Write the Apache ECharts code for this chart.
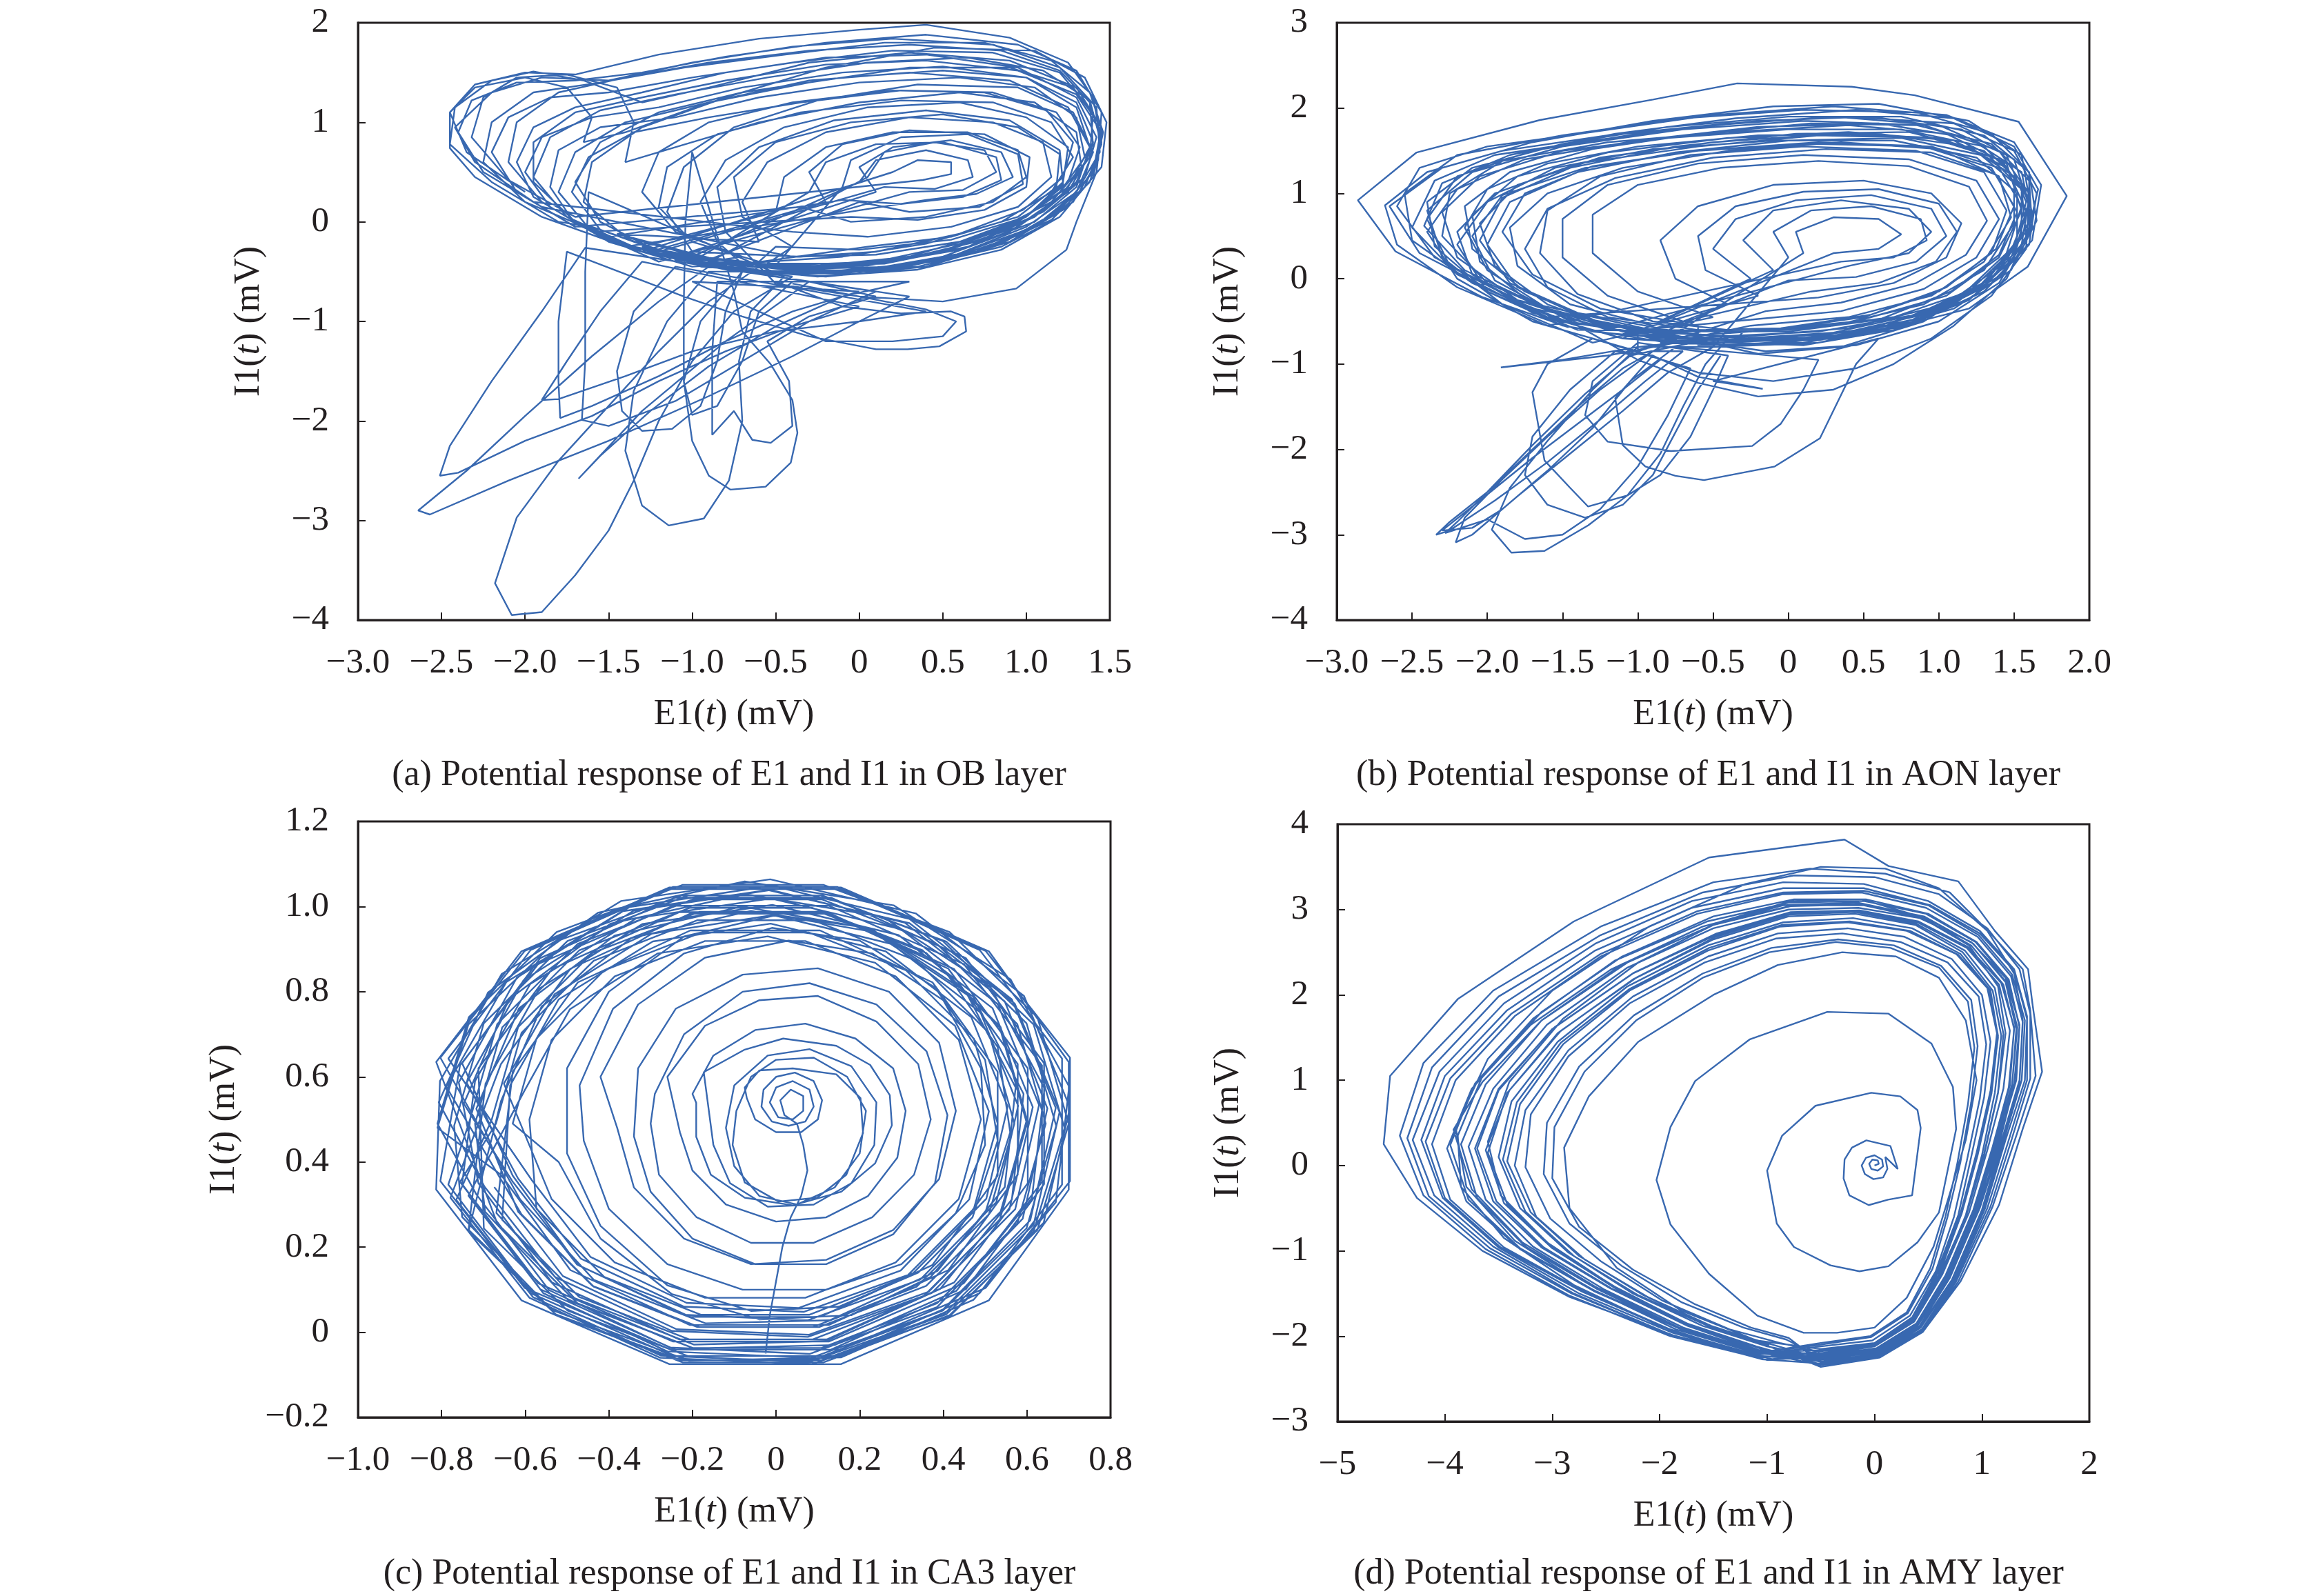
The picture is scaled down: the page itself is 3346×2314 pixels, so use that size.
<!DOCTYPE html>
<html>
<head>
<meta charset="utf-8">
<script src="https://cdn.jsdelivr.net/npm/echarts@6/dist/echarts.min.js"></script>
<style>
  html, body { margin: 0; padding: 0; background: #fff; }
  #chart { width: 3346px; height: 2314px; }
</style>
</head>
<body>
<div id="chart"></div>
<script>
// E1(t), I1(t) pairs traced off the four phase portraits (mV)

// (a) OB layer — main ring loops
const obRing = [
  [[-2.0,0.3],[-2.35,0.7],[-2.45,1.1],[-2.3,1.38],[-2.0,1.5],[-1.7,1.48],[-1.2,1.68],[-0.6,1.84],[0.0,1.93],[0.4,1.98],[0.9,1.85],[1.25,1.6],[1.4,1.25],[1.45,0.8],[1.38,0.4],[1.15,0.02],[0.75,-0.28],[0.25,-0.45],[-0.3,-0.47],[-0.9,-0.36],[-1.45,-0.12]],
  [[-0.6,-0.2],[-0.7,0.2],[-0.55,0.6],[-0.2,0.9],[0.3,1.05],[0.8,1.0],[1.1,0.8],[1.15,0.45],[0.95,0.15],[0.55,-0.05],[0.05,-0.15],[-0.4,-0.1]],
  [[-1.95,0.2],[-2.3,0.6],[-2.42,0.95],[-2.2,1.3],[-1.9,1.45],[-1.5,1.42],[-1.0,1.6],[-0.4,1.76],[0.2,1.84],[0.8,1.78],[1.2,1.55],[1.42,1.15],[1.44,0.7],[1.3,0.3],[1.0,-0.05],[0.55,-0.35],[0.0,-0.5],[-0.6,-0.45],[-1.2,-0.28],[-1.6,-0.05]],
  [[-1.8,0.0],[-2.2,0.4],[-2.45,0.78],[-2.42,1.15],[-2.2,1.42],[-1.95,1.51],[-1.65,1.42],[-1.3,1.2],[-0.9,1.35],[-0.3,1.6],[0.3,1.7],[0.9,1.62],[1.3,1.35],[1.45,0.95],[1.4,0.5],[1.2,0.12],[0.85,-0.22],[0.35,-0.42],[-0.2,-0.5],[-0.8,-0.42],[-1.3,-0.25]],
  [[-0.5,0.1],[-0.45,0.45],[-0.2,0.75],[0.2,0.9],[0.65,0.9],[0.95,0.72],[1.0,0.45],[0.8,0.2],[0.4,0.05],[-0.05,0.0],[-0.35,0.15]],
  [[-1.7,-0.05],[-2.05,0.3],[-2.2,0.7],[-2.1,1.05],[-1.85,1.25],[-1.5,1.3],[-1.0,1.45],[-0.4,1.6],[0.2,1.72],[0.8,1.7],[1.2,1.5],[1.4,1.1],[1.38,0.65],[1.2,0.25],[0.9,-0.1],[0.45,-0.38],[-0.1,-0.52],[-0.7,-0.48],[-1.25,-0.3]],
  [[-0.2,0.2],[-0.3,0.5],[-0.1,0.78],[0.3,0.92],[0.75,0.88],[1.02,0.65],[1.0,0.35],[0.75,0.12],[0.35,0.02],[-0.05,0.05]],
  [[-1.6,-0.1],[-1.95,0.25],[-2.05,0.6],[-1.95,0.95],[-1.7,1.15],[-1.3,1.3],[-0.8,1.5],[-0.2,1.65],[0.4,1.68],[0.95,1.55],[1.3,1.25],[1.42,0.85],[1.35,0.45],[1.1,0.1],[0.7,-0.2],[0.2,-0.4],[-0.4,-0.48],[-1.0,-0.4]],
  [[-0.3,0.3],[-0.2,0.6],[0.1,0.78],[0.5,0.8],[0.82,0.65],[0.85,0.42],[0.62,0.25],[0.25,0.18],[-0.1,0.22]],
  [[-1.5,-0.15],[-2.0,0.2],[-2.25,0.6],[-2.2,1.0],[-1.95,1.3],[-1.55,1.4],[-1.05,1.55],[-0.45,1.68],[0.15,1.8],[0.75,1.8],[1.15,1.62],[1.38,1.3],[1.46,0.9],[1.4,0.45],[1.2,0.05],[0.85,-0.28],[0.35,-0.48],[-0.25,-0.55],[-0.85,-0.45]],
  [[-1.5,-0.2],[-1.85,0.15],[-2.0,0.5],[-1.9,0.85],[-1.6,1.05],[-1.2,1.15],[-0.7,1.35],[-0.1,1.5],[0.5,1.56],[1.0,1.45],[1.3,1.15],[1.38,0.75],[1.25,0.35],[0.95,0.0],[0.5,-0.3],[0.0,-0.45],[-0.6,-0.46],[-1.1,-0.35]],
  [[0.1,0.3],[0.0,0.55],[0.2,0.75],[0.55,0.82],[0.85,0.7],[0.92,0.45],[0.7,0.28],[0.4,0.22]],
  [[-1.4,-0.25],[-1.9,0.05],[-2.3,0.45],[-2.45,0.74],[-2.45,1.1],[-2.3,1.35],[-2.0,1.45],[-1.75,1.35],[-1.6,1.05],[-1.65,0.8],[-1.4,0.9],[-0.9,1.2],[-0.3,1.42],[0.3,1.5],[0.9,1.42],[1.25,1.15],[1.38,0.75],[1.3,0.35],[1.05,0.0],[0.6,-0.28],[0.05,-0.44],[-0.5,-0.45],[-1.0,-0.35]],
  [[0.0,0.4],[0.1,0.62],[0.4,0.72],[0.65,0.62],[0.68,0.45],[0.45,0.33],[0.15,0.35]],
  [[-1.2,-0.3],[-1.55,0.0],[-1.7,0.4],[-1.55,0.8],[-1.2,1.1],[-0.7,1.3],[-0.1,1.45],[0.5,1.52],[1.0,1.45],[1.3,1.2],[1.4,0.8],[1.3,0.4],[1.05,0.05],[0.65,-0.25],[0.15,-0.42],[-0.45,-0.45]],
  [[-1.3,-0.3],[-1.7,-0.02],[-1.85,0.35],[-1.8,0.72],[-1.55,0.95],[-1.1,1.05],[-0.6,1.25],[0.0,1.4],[0.6,1.45],[1.05,1.35],[1.3,1.05],[1.35,0.65],[1.2,0.3],[0.9,-0.05],[0.45,-0.32],[-0.1,-0.45],[-0.7,-0.42]],
  [[-0.85,-0.2],[-0.95,0.2],[-0.8,0.62],[-0.45,0.95],[0.05,1.15],[0.6,1.2],[1.0,1.05],[1.25,0.75],[1.22,0.4],[1.0,0.05],[0.6,-0.2],[0.1,-0.33],[-0.4,-0.35]],
  [[-1.9,0.15],[-2.25,0.5],[-2.4,0.9],[-2.32,1.22],[-2.05,1.4],[-1.7,1.42],[-1.3,1.5],[-0.8,1.66],[-0.2,1.8],[0.4,1.88],[0.95,1.78],[1.3,1.52],[1.45,1.1],[1.43,0.62],[1.28,0.2],[0.98,-0.12],[0.52,-0.38],[0.0,-0.5],[-0.55,-0.5],[-1.1,-0.38]],
  [[-1.15,-0.32],[-1.55,-0.08],[-1.72,0.3],[-1.62,0.65],[-1.35,0.9],[-0.9,1.05],[-0.35,1.2],[0.25,1.32],[0.8,1.3],[1.18,1.1],[1.32,0.75],[1.25,0.4],[1.0,0.05],[0.6,-0.22],[0.1,-0.4],[-0.5,-0.44]],
  [[-0.1,0.35],[-0.05,0.62],[0.25,0.85],[0.65,0.88],[0.95,0.68],[0.98,0.38],[0.72,0.15],[0.3,0.1],[0.0,0.2]],
  [[-0.9,-0.38],[-1.4,-0.15],[-1.65,0.2],[-1.6,0.6],[-1.3,0.95],[-0.8,1.25],[-0.2,1.55],[0.45,1.75],[1.05,1.72],[1.35,1.45],[1.48,1.0],[1.45,0.55],[1.25,0.15],[0.9,-0.2],[0.4,-0.45],[-0.2,-0.55],[-0.8,-0.48],[-1.3,-0.3]],
  [[0.2,0.5],[0.35,0.62],[0.55,0.6],[0.55,0.48],[0.38,0.42]],
  [[-1.7,0.05],[-2.1,0.42],[-2.32,0.85],[-2.25,1.25],[-2.05,1.45],[-1.75,1.48],[-1.45,1.35],[-1.35,1.0],[-1.4,0.6],[-1.1,0.75],[-0.6,1.0],[0.0,1.2],[0.6,1.3],[1.05,1.2],[1.3,0.9],[1.33,0.55],[1.15,0.2],[0.8,-0.1],[0.3,-0.35],[-0.3,-0.45],[-0.9,-0.4]],
  [[-0.7,-0.35],[-1.1,-0.1],[-1.3,0.3],[-1.2,0.7],[-0.9,1.0],[-0.4,1.2],[0.2,1.32],[0.75,1.3],[1.12,1.12],[1.28,0.8],[1.22,0.45],[0.98,0.12],[0.6,-0.12],[0.1,-0.3],[-0.35,-0.35]],
  [[-1.0,-0.3],[-1.15,0.1],[-1.05,0.55],[-0.75,0.95],[-0.25,1.22],[0.35,1.38],[0.95,1.35],[1.28,1.1],[1.4,0.7],[1.3,0.3],[1.05,-0.05],[0.6,-0.32],[0.05,-0.48],[-0.55,-0.5]],
  [[-1.35,-0.25],[-1.75,0.05],[-1.95,0.45],[-1.85,0.85],[-1.55,1.12],[-1.1,1.28],[-0.55,1.45],[0.05,1.6],[0.65,1.65],[1.1,1.52],[1.38,1.22],[1.45,0.78],[1.35,0.35],[1.1,0.0],[0.7,-0.3],[0.2,-0.48],[-0.35,-0.52],[-0.95,-0.45]],
  [[0.05,0.45],[0.15,0.7],[0.45,0.8],[0.75,0.72],[0.82,0.5],[0.62,0.32],[0.3,0.3]],
  [[-1.2,-0.4],[-1.6,-0.1],[-1.8,0.3],[-1.7,0.7],[-1.4,1.0],[-0.9,1.2],[-0.3,1.4],[0.3,1.55],[0.9,1.55],[1.28,1.35],[1.45,0.95],[1.42,0.5],[1.3,0.0],[1.24,-0.28],[0.94,-0.67],[0.5,-0.8],[0.0,-0.75],[-0.5,-0.62]],
  [[-0.8,-0.1],[-0.85,0.35],[-0.6,0.75],[-0.15,1.02],[0.4,1.12],[0.9,1.02],[1.2,0.72],[1.22,0.38],[1.0,0.05],[0.55,-0.18],[0.0,-0.28],[-0.5,-0.25]],
  [[-0.6,-0.4],[-1.0,-0.2],[-1.2,0.15],[-1.15,0.55],[-0.85,0.88],[-0.35,1.1],[0.25,1.22],[0.8,1.2],[1.15,1.0],[1.28,0.65],[1.15,0.3],[0.85,0.0],[0.4,-0.22],[-0.1,-0.35]],
  [[-1.0,-0.45],[-1.5,-0.2],[-1.9,0.2],[-2.1,0.6],[-2.05,1.0],[-1.8,1.3],[-1.4,1.45],[-0.9,1.6],[-0.3,1.72],[0.3,1.78],[0.85,1.72],[1.2,1.52],[1.38,1.2],[1.4,0.75],[1.25,0.3],[0.95,-0.05],[0.5,-0.3],[0.0,-0.42],[-0.55,-0.42]],
  [[-0.4,-0.25],[-0.7,0.05],[-0.75,0.45],[-0.5,0.8],[-0.05,1.0],[0.5,1.08],[0.95,0.95],[1.2,0.68],[1.18,0.35],[0.95,0.05],[0.55,-0.15],[0.05,-0.25]],
  [[-0.8,-0.45],[-1.3,-0.3],[-1.7,0.0],[-1.95,0.4],[-1.95,0.8],[-1.7,1.1],[-1.3,1.25],[-0.8,1.42],[-0.2,1.58],[0.4,1.62],[0.95,1.52],[1.3,1.28],[1.45,0.9],[1.4,0.45],[1.2,0.05],[0.85,-0.25],[0.35,-0.45],[-0.25,-0.52]]
].flat();

// (a) OB layer — excursions into the lower wing
const obWing = [
  [[-0.6,-0.45],[-0.9,-0.8],[-1.2,-1.3],[-1.5,-1.85],[-1.8,-2.4],[-2.05,-2.97],[-2.18,-3.63],[-2.08,-3.95],[-1.9,-3.92],[-1.7,-3.55],[-1.5,-3.1],[-1.35,-2.6],[-1.2,-2.0],[-1.0,-1.4],[-0.75,-0.9],[-0.4,-0.55]],
  [[-0.9,-0.45],[-1.2,-0.8],[-1.6,-1.35],[-2.0,-1.95],[-2.35,-2.5],[-2.64,-2.9],[-2.57,-2.94],[-2.1,-2.6],[-1.5,-2.2],[-0.9,-1.75],[-0.4,-1.35],[0.0,-1.0],[0.3,-0.75]],
  [[-1.64,-0.26],[-1.9,-0.9],[-2.2,-1.6],[-2.45,-2.25],[-2.51,-2.55],[-2.4,-2.52],[-2.0,-2.2],[-1.6,-1.95],[-1.2,-1.6],[-0.8,-1.3],[-0.4,-1.05],[0.0,-0.85]],
  [[-1.3,-0.4],[-1.55,-0.9],[-1.75,-1.4],[-1.9,-1.79],[-1.8,-1.78],[-1.4,-1.55],[-1.0,-1.3],[-0.5,-1.1],[0.0,-1.0],[0.4,-0.9]],
  [[-1.1,-0.45],[-1.35,-0.9],[-1.45,-1.5],[-1.42,-1.9],[-1.3,-2.1],[-1.12,-2.08],[-0.95,-1.85],[-0.85,-1.4],[-0.8,-0.9],[-0.7,-0.5]],
  [[-0.9,-0.5],[-1.15,-1.0],[-1.35,-1.7],[-1.4,-2.3],[-1.3,-2.85],[-1.14,-3.05],[-0.93,-2.98],[-0.78,-2.6],[-0.7,-2.0],[-0.72,-1.4],[-0.65,-0.9],[-0.45,-0.55]],
  [[-1.62,0.3],[-1.64,-0.5],[-1.64,-1.4],[-1.66,-1.99],[-1.5,-2.05],[-1.1,-1.8],[-0.7,-1.4],[-0.3,-1.0],[0.1,-0.7]],
  [[-0.7,-0.5],[-0.95,-1.0],[-1.05,-1.6],[-1.0,-2.2],[-0.9,-2.55],[-0.77,-2.69],[-0.56,-2.66],[-0.41,-2.42],[-0.37,-2.12],[-0.4,-1.79],[-0.53,-1.43],[-0.7,-1.1],[-0.75,-0.7]],
  [[-1.0,0.7],[-1.04,0.0],[-1.05,-0.8],[-1.05,-1.6],[-1.0,-1.94],[-0.85,-1.85],[-0.7,-1.4],[-0.6,-0.9],[-0.4,-0.6]],
  [[-0.85,-0.6],[-0.88,-1.3],[-0.88,-2.14],[-0.75,-1.9],[-0.64,-2.19],[-0.53,-2.22],[-0.4,-2.05],[-0.42,-1.6],[-0.55,-1.2],[-0.3,-0.95],[0.1,-0.75]],
  [[-0.3,-0.6],[-0.8,-1.2],[-1.3,-1.9],[-1.68,-2.58],[-1.55,-2.35],[-1.25,-1.9],[-0.9,-1.45],[-0.5,-1.05],[-0.1,-0.75],[0.3,-0.6]],
  [[-0.5,-0.6],[-0.1,-0.85],[0.25,-0.92],[0.55,-0.9],[0.63,-0.95],[0.64,-1.1],[0.48,-1.25],[0.29,-1.28],[0.1,-1.28],[-0.3,-1.15],[-0.7,-0.95],[-1.05,-0.75]],
  [[-1.75,-0.3],[-1.8,-1.0],[-1.8,-1.6],[-1.79,-1.97],[-1.6,-1.85],[-1.2,-1.55],[-0.8,-1.2],[-0.4,-0.9],[0.0,-0.7]],
  [[-1.0,-0.6],[-0.6,-0.9],[-0.2,-1.2],[0.2,-1.2],[0.5,-1.15],[0.58,-1.0],[0.4,-0.88],[0.0,-0.75],[-0.4,-0.62]]
].flat();

// (b) AON layer — main ring loops
const aonRing = [
  [[-1.46,-0.57],[-2.04,-0.21],[-2.61,0.32],[-2.86,0.92],[-2.47,1.48],[-1.65,1.86],[-0.9,2.1],[-0.34,2.29],[0.42,2.25],[0.84,2.15],[1.53,1.84],[1.85,0.97],[1.59,0.14],[1.2,-0.35],[0.6,-0.62],[-0.1,-0.72],[-0.8,-0.7]],
  [[-1.3,-0.62],[-1.9,-0.2],[-2.45,0.3],[-2.65,0.85],[-2.3,1.3],[-1.7,1.6],[-0.9,1.85],[-0.1,2.02],[0.6,2.05],[1.2,1.85],[1.55,1.45],[1.62,0.75],[1.45,0.15],[1.1,-0.3],[0.5,-0.6],[-0.2,-0.72],[-0.9,-0.68]],
  [[-0.4,-0.3],[-0.75,0.0],[-0.85,0.45],[-0.6,0.85],[-0.1,1.1],[0.5,1.15],[0.95,1.0],[1.15,0.65],[1.05,0.25],[0.7,-0.05],[0.2,-0.22]],
  [[-1.6,-0.45],[-2.2,0.05],[-2.5,0.6],[-2.35,1.15],[-1.95,1.45],[-1.3,1.62],[-0.5,1.8],[0.3,1.9],[1.0,1.8],[1.45,1.45],[1.58,0.9],[1.5,0.35],[1.2,-0.15],[0.7,-0.45],[0.0,-0.6],[-0.7,-0.62]],
  [[-1.2,-0.55],[-1.75,-0.15],[-2.1,0.35],[-2.15,0.85],[-1.85,1.25],[-1.3,1.52],[-0.6,1.7],[0.15,1.82],[0.85,1.8],[1.35,1.58],[1.6,1.15],[1.62,0.6],[1.42,0.05],[1.0,-0.38],[0.4,-0.62],[-0.3,-0.7]],
  [[-1.4,-0.52],[-2.0,-0.05],[-2.3,0.5],[-2.25,1.0],[-1.9,1.38],[-1.2,1.6],[-0.4,1.72],[0.4,1.8],[1.05,1.7],[1.45,1.35],[1.55,0.8],[1.4,0.25],[1.05,-0.2],[0.45,-0.5],[-0.25,-0.62],[-0.9,-0.6]],
  [[-0.5,-0.45],[-1.0,-0.15],[-1.3,0.3],[-1.3,0.75],[-1.0,1.1],[-0.45,1.3],[0.2,1.38],[0.8,1.32],[1.2,1.08],[1.32,0.68],[1.18,0.28],[0.85,-0.05],[0.35,-0.28],[-0.15,-0.38]],
  [[-1.0,-0.85],[-1.7,-0.5],[-2.2,0.0],[-2.4,0.55],[-2.2,1.05],[-1.75,1.4],[-1.0,1.62],[-0.2,1.78],[0.6,1.82],[1.2,1.65],[1.55,1.25],[1.62,0.65],[1.45,0.0],[1.1,-0.55],[0.7,-1.0],[0.3,-1.3],[-0.2,-1.38],[-0.6,-1.22],[-1.0,-0.95]],
  [[-1.55,-0.4],[-2.15,0.1],[-2.42,0.62],[-2.3,1.12],[-1.85,1.45],[-1.15,1.7],[-0.35,1.88],[0.45,1.98],[1.1,1.88],[1.5,1.55],[1.66,1.05],[1.58,0.45],[1.3,-0.08],[0.85,-0.48],[0.2,-0.7],[-0.5,-0.75]],
  [[-1.7,-0.35],[-2.25,0.15],[-2.4,0.7],[-2.2,1.2],[-1.7,1.5],[-1.0,1.7],[-0.2,1.85],[0.55,1.9],[1.15,1.75],[1.5,1.4],[1.6,0.85],[1.45,0.2],[1.05,-0.3],[0.4,-0.58],[-0.3,-0.68],[-1.0,-0.62]],
  [[-0.1,0.1],[-0.3,0.45],[-0.1,0.8],[0.35,0.92],[0.8,0.82],[0.95,0.55],[0.8,0.3],[0.4,0.15]],
  [[-1.2,-0.6],[-1.8,-0.25],[-2.2,0.25],[-2.3,0.78],[-2.05,1.2],[-1.5,1.5],[-0.8,1.65],[0.0,1.75],[0.75,1.75],[1.3,1.55],[1.55,1.1],[1.55,0.5],[1.3,-0.05],[0.85,-0.42],[0.2,-0.62],[-0.5,-0.68]],
  [[-0.7,-0.7],[-1.3,-0.5],[-1.8,-0.1],[-2.0,0.4],[-1.85,0.9],[-1.4,1.25],[-0.75,1.48],[0.0,1.62],[0.75,1.65],[1.28,1.45],[1.55,1.05],[1.58,0.5],[1.4,-0.05],[1.0,-0.5],[0.45,-0.78],[-0.15,-0.85]],
  [[-1.5,-0.5],[-2.1,-0.05],[-2.5,0.45],[-2.55,1.0],[-2.2,1.45],[-1.5,1.68],[-0.7,1.88],[0.1,1.98],[0.85,1.95],[1.35,1.7],[1.6,1.25],[1.6,0.6],[1.35,0.0],[0.9,-0.4],[0.25,-0.65],[-0.45,-0.72],[-1.1,-0.65]],
  [[-0.2,-0.2],[-0.55,0.1],[-0.6,0.5],[-0.35,0.85],[0.1,1.02],[0.6,1.05],[1.0,0.88],[1.12,0.55],[0.98,0.2],[0.6,-0.05],[0.15,-0.15]],
  [[-1.3,-0.75],[-1.9,-0.3],[-2.3,0.25],[-2.4,0.8],[-2.1,1.25],[-1.5,1.55],[-0.7,1.75],[0.1,1.85],[0.9,1.8],[1.4,1.5],[1.6,1.0],[1.58,0.35],[1.35,-0.2],[0.95,-0.7],[0.45,-1.05],[-0.1,-1.2],[-0.6,-1.1],[-1.0,-0.85]],
  [[-1.0,-0.62],[-1.6,-0.35],[-2.0,0.1],[-2.15,0.6],[-2.0,1.05],[-1.6,1.35],[-1.0,1.55],[-0.2,1.68],[0.6,1.7],[1.2,1.55],[1.5,1.2],[1.5,0.65],[1.3,0.1],[0.9,-0.3],[0.3,-0.55],[-0.35,-0.62]],
  [[-1.4,-0.6],[-2.0,-0.15],[-2.35,0.38],[-2.4,0.9],[-2.1,1.3],[-1.5,1.58],[-0.8,1.78],[0.0,1.9],[0.75,1.9],[1.3,1.68],[1.6,1.25],[1.65,0.68],[1.48,0.1],[1.1,-0.35],[0.5,-0.65],[-0.2,-0.78],[-0.85,-0.75]],
  [[0.1,0.3],[0.05,0.55],[0.3,0.72],[0.6,0.7],[0.75,0.52],[0.6,0.35],[0.3,0.3]],
  [[-0.9,-0.55],[-1.45,-0.3],[-1.8,0.15],[-1.85,0.6],[-1.6,1.0],[-1.1,1.3],[-0.4,1.5],[0.35,1.6],[1.0,1.52],[1.4,1.2],[1.48,0.72],[1.3,0.2],[0.95,-0.2],[0.4,-0.45],[-0.25,-0.55]],
  [[-0.8,-0.75],[-1.5,-0.55],[-2.0,-0.15],[-2.2,0.4],[-2.0,0.9],[-1.55,1.3],[-0.9,1.52],[-0.1,1.62],[0.7,1.62],[1.25,1.42],[1.52,1.0],[1.52,0.45],[1.3,-0.05],[0.9,-0.5],[0.35,-0.8],[-0.2,-0.88]],
  [[-1.8,-0.25],[-2.35,0.25],[-2.6,0.85],[-2.45,1.3],[-2.0,1.55],[-1.3,1.72],[-0.5,1.92],[0.3,2.02],[1.05,1.92],[1.5,1.6],[1.68,1.1],[1.62,0.45],[1.35,-0.05],[0.9,-0.45],[0.3,-0.7],[-0.4,-0.78],[-1.1,-0.7]],
  [[-0.25,0.0],[-0.5,0.35],[-0.35,0.7],[0.05,0.92],[0.55,0.98],[0.95,0.82],[1.05,0.5],[0.85,0.2],[0.45,0.02],[0.0,-0.02]],
  [[-0.7,-0.5],[-1.2,-0.2],[-1.5,0.25],[-1.5,0.7],[-1.2,1.1],[-0.6,1.35],[0.1,1.45],[0.8,1.4],[1.25,1.15],[1.4,0.7],[1.25,0.25],[0.9,-0.12],[0.35,-0.38],[-0.25,-0.48]],
  [[-1.1,-0.62],[-1.6,-0.3],[-1.95,0.15],[-2.05,0.65],[-1.8,1.1],[-1.25,1.42],[-0.5,1.6],[0.3,1.7],[1.0,1.65],[1.42,1.38],[1.6,0.92],[1.52,0.38],[1.25,-0.12],[0.8,-0.5],[0.2,-0.7],[-0.45,-0.72]],
  [[-0.5,-0.72],[-1.1,-0.62],[-1.7,-0.3],[-2.05,0.2],[-2.1,0.75],[-1.8,1.2],[-1.2,1.48],[-0.4,1.65],[0.4,1.72],[1.1,1.62],[1.45,1.3],[1.58,0.8],[1.5,0.25],[1.2,-0.25],[0.7,-0.6],[0.1,-0.78]],
  [[-1.1,-0.7],[-1.7,-0.4],[-2.1,0.05],[-2.2,0.55],[-1.95,1.0],[-1.4,1.35],[-0.6,1.55],[0.2,1.68],[0.95,1.65],[1.4,1.4],[1.6,0.95],[1.55,0.4],[1.3,-0.1],[0.85,-0.5],[0.2,-0.75],[-0.5,-0.8]],
  [[0.0,0.25],[-0.1,0.55],[0.15,0.8],[0.55,0.85],[0.88,0.7],[0.92,0.45],[0.7,0.25],[0.35,0.2]],
  [[-1.6,-0.55],[-2.2,-0.1],[-2.6,0.4],[-2.68,0.86],[-2.4,1.25],[-1.9,1.5],[-1.2,1.68],[-0.4,1.82],[0.4,1.9],[1.1,1.82],[1.5,1.5],[1.65,1.0],[1.6,0.4],[1.3,-0.15],[0.8,-0.55],[0.1,-0.75],[-0.6,-0.78]],
  [[-0.6,-0.55],[-1.25,-0.35],[-1.7,0.05],[-1.9,0.55],[-1.75,1.0],[-1.3,1.32],[-0.6,1.5],[0.15,1.58],[0.9,1.55],[1.35,1.3],[1.5,0.85],[1.38,0.35],[1.05,-0.1],[0.55,-0.42],[-0.05,-0.58]],
  [[-0.6,-0.6],[-1.2,-0.45],[-1.6,-0.1],[-1.75,0.35],[-1.6,0.82],[-1.15,1.18],[-0.5,1.42],[0.25,1.52],[0.95,1.48],[1.38,1.22],[1.52,0.78],[1.4,0.28],[1.08,-0.15],[0.6,-0.48],[0.0,-0.62]],
  [[-0.8,-0.6],[-1.4,-0.4],[-1.85,-0.05],[-2.05,0.45],[-1.9,0.95],[-1.45,1.3],[-0.75,1.55],[0.05,1.7],[0.8,1.72],[1.3,1.5],[1.55,1.05],[1.55,0.5],[1.32,-0.02],[0.9,-0.45],[0.3,-0.68],[-0.35,-0.72]],
  [[-0.3,-0.62],[-0.9,-0.5],[-1.4,-0.18],[-1.65,0.3],[-1.6,0.8],[-1.25,1.2],[-0.65,1.45],[0.1,1.55],[0.85,1.5],[1.3,1.25],[1.45,0.8],[1.35,0.3],[1.0,-0.15],[0.5,-0.45],[-0.1,-0.6]],
  [[-0.9,-0.7],[-1.5,-0.45],[-1.95,-0.02],[-2.1,0.5],[-1.9,0.98],[-1.35,1.3],[-0.6,1.5],[0.2,1.6],[0.95,1.55],[1.4,1.3],[1.55,0.85],[1.45,0.3],[1.15,-0.2],[0.65,-0.55],[0.0,-0.72],[-0.6,-0.75]]
].flat();

// (b) AON layer — excursions into the lower wing
const aonWing = [
  [[-0.8,-0.75],[-1.1,-1.05],[-1.4,-1.5],[-1.7,-2.0],[-2.0,-2.5],[-2.25,-2.85],[-2.34,-3.0],[-2.25,-2.95],[-1.95,-2.6],[-1.6,-2.15],[-1.25,-1.65],[-0.95,-1.2],[-0.7,-0.85]],
  [[-0.9,-0.85],[-1.25,-1.3],[-1.6,-1.85],[-1.9,-2.35],[-2.15,-2.8],[-2.21,-3.09],[-2.1,-3.0],[-1.8,-2.55],[-1.45,-2.05],[-1.1,-1.55],[-0.8,-1.1],[-0.5,-0.8]],
  [[-1.0,-0.8],[-1.3,-1.3],[-1.6,-1.9],[-1.85,-2.45],[-1.97,-2.94],[-1.84,-3.21],[-1.62,-3.19],[-1.33,-2.89],[-1.07,-2.54],[-0.85,-2.05],[-0.7,-1.5],[-0.55,-1.0],[-0.4,-0.7]],
  [[-0.6,-0.7],[-1.2,-0.9],[-1.91,-1.04],[-1.5,-0.95],[-1.0,-0.8],[-0.5,-0.7]],
  [[-1.05,-0.9],[-1.35,-1.35],[-1.7,-1.95],[-2.0,-2.5],[-2.2,-2.85],[-2.28,-2.98],[-2.0,-2.82],[-1.75,-3.05],[-1.5,-3.0],[-1.25,-2.7],[-1.0,-2.2],[-0.8,-1.6],[-0.65,-1.05]],
  [[-1.3,-0.7],[-1.6,-1.0],[-1.7,-1.33],[-1.62,-2.13],[-1.45,-2.45],[-1.33,-2.67],[-1.07,-2.54],[-0.85,-2.3],[-0.65,-1.85],[-0.5,-1.3],[-0.4,-0.9]],
  [[-1.0,-0.75],[-1.3,-1.2],[-1.35,-1.6],[-1.2,-1.91],[-0.78,-2.02],[-0.24,-1.96],[-0.05,-1.7],[0.1,-1.3],[0.2,-0.95]],
  [[-0.75,-0.8],[-1.05,-1.2],[-1.3,-1.75],[-1.6,-2.25],[-1.9,-2.7],[-2.1,-2.92],[-2.3,-2.95],[-2.05,-2.6],[-1.7,-2.1],[-1.4,-1.7],[-1.1,-1.3],[-0.85,-0.95]],
  [[-0.9,-0.9],[-1.15,-1.4],[-1.1,-1.95],[-0.95,-2.2],[-0.75,-2.31],[-0.56,-2.36],[-0.09,-2.2],[0.21,-1.87],[0.34,-1.4],[0.45,-1.0],[0.6,-0.7]],
  [[-0.5,-1.2],[-0.17,-1.29],[-0.6,-1.15],[-0.9,-0.9]],
  [[-1.15,-0.85],[-1.45,-1.3],[-1.7,-1.85],[-1.75,-2.3],[-1.6,-2.65],[-1.35,-2.8],[-1.1,-2.65],[-0.9,-2.3],[-0.75,-1.8],[-0.6,-1.3],[-0.45,-0.9]]
].flat();

// (c) CA3 layer — start-up transient and inner spiral
const ca3Spiral = [
  [[-0.025,-0.05],[-0.015,0.04],[0.0,0.12],[0.015,0.2],[0.035,0.27],[0.06,0.32],[0.075,0.38],[0.065,0.44],[0.05,0.49]],
  [[0.02,0.51],[0.01,0.545],[0.035,0.57],[0.065,0.555],[0.065,0.52],[0.04,0.5],[0.005,0.505],[-0.015,0.54],[0.0,0.575],[0.04,0.59],[0.08,0.57],[0.09,0.53],[0.07,0.495],[0.03,0.485],[-0.01,0.495],[-0.035,0.53],[-0.03,0.57],[0.0,0.6],[0.045,0.61],[0.09,0.59],[0.11,0.545],[0.1,0.5],[0.06,0.47],[0.0,0.47],[-0.05,0.5],[-0.07,0.55]],
  [[-0.075,0.575],[-0.04,0.615],[0.04,0.62],[0.144,0.606],[0.202,0.55],[0.208,0.468],[0.168,0.37],[0.098,0.316],[0.006,0.307],[-0.075,0.352],[-0.104,0.44],[-0.095,0.52]],
  [[-0.06,0.6],[0.0,0.64],[0.09,0.645],[0.17,0.6],[0.215,0.52],[0.2,0.42],[0.14,0.34],[0.05,0.3],[-0.04,0.32],[-0.1,0.39],[-0.12,0.48]],
  [[-0.1,0.58],[-0.02,0.65],[0.08,0.665],[0.18,0.625],[0.24,0.54],[0.235,0.44],[0.18,0.35],[0.09,0.3],[-0.02,0.295],[-0.11,0.35],[-0.15,0.44]],
  [[-0.173,0.611],[-0.075,0.664],[0.017,0.69],[0.144,0.673],[0.225,0.628],[0.272,0.557],[0.277,0.486],[0.237,0.397],[0.156,0.33],[0.04,0.298],[-0.075,0.316],[-0.156,0.37],[-0.191,0.459],[-0.191,0.539]],
  [[-0.2,0.56],[-0.15,0.65],[-0.05,0.71],[0.07,0.725],[0.19,0.69],[0.28,0.62],[0.31,0.52],[0.29,0.41],[0.22,0.32],[0.12,0.27],[0.0,0.26],[-0.12,0.3],[-0.2,0.38],[-0.23,0.47]],
  [[-0.26,0.6],[-0.17,0.72],[-0.04,0.78],[0.1,0.79],[0.24,0.73],[0.34,0.63],[0.37,0.5],[0.33,0.37],[0.23,0.27],[0.09,0.21],[-0.06,0.21],[-0.19,0.27],[-0.28,0.37],[-0.3,0.49]],
  [[-0.29,0.56],[-0.22,0.7],[-0.08,0.8],[0.08,0.82],[0.24,0.77],[0.36,0.66],[0.41,0.51],[0.38,0.35],[0.28,0.23],[0.12,0.16],[-0.05,0.16],[-0.2,0.22],[-0.3,0.33],[-0.34,0.46]],
  [[-0.33,0.62],[-0.24,0.76],[-0.08,0.84],[0.1,0.855],[0.27,0.8],[0.39,0.68],[0.43,0.52],[0.39,0.36],[0.28,0.24],[0.12,0.17],[-0.06,0.16],[-0.22,0.22],[-0.34,0.34],[-0.38,0.48]],
  [[-0.42,0.6],[-0.33,0.77],[-0.17,0.88],[0.03,0.92],[0.23,0.89],[0.4,0.78],[0.49,0.62],[0.5,0.44],[0.43,0.28],[0.3,0.16],[0.12,0.1],[-0.08,0.1],[-0.26,0.16],[-0.4,0.29],[-0.46,0.45]],
  [[-0.47,0.58],[-0.39,0.76],[-0.22,0.89],[-0.01,0.95],[0.2,0.92],[0.38,0.81],[0.5,0.64],[0.53,0.45],[0.47,0.27],[0.34,0.14],[0.15,0.06],[-0.06,0.05],[-0.26,0.11],[-0.42,0.25],[-0.5,0.42]],
  [[-0.5,0.62],[-0.4,0.8],[-0.22,0.93],[0.0,0.98],[0.22,0.95],[0.41,0.84],[0.53,0.67],[0.56,0.47],[0.5,0.28],[0.37,0.13],[0.18,0.04],[-0.04,0.03],[-0.25,0.09],[-0.42,0.22],[-0.52,0.4]]
].flat();

// (c) CA3 layer — outer band of loops
const ca3Band = [
  [[-0.63,0.49],[-0.573,0.69],[-0.411,0.85],[-0.179,0.939],[0.079,0.939],[0.311,0.85],[0.473,0.69],[0.53,0.49],[0.473,0.29],[0.311,0.13],[0.079,0.041],[-0.179,0.041],[-0.411,0.13],[-0.573,0.29]],
  [[-0.59,0.5],[-0.537,0.687],[-0.386,0.836],[-0.17,0.919],[0.07,0.919],[0.286,0.836],[0.437,0.687],[0.49,0.5],[0.437,0.313],[0.286,0.164],[0.07,0.081],[-0.17,0.081],[-0.386,0.164],[-0.537,0.313]],
  [[-0.651,0.584],[-0.53,0.794],[-0.298,0.936],[-0.007,0.98],[0.277,0.912],[0.489,0.751],[0.579,0.532],[0.527,0.306],[0.345,0.124],[0.075,0.028],[-0.221,0.041],[-0.476,0.159],[-0.631,0.355]],
  [[-0.747,0.537],[-0.639,0.782],[-0.396,0.96],[-0.073,1.029],[0.255,0.976],[0.513,0.811],[0.642,0.573],[0.612,0.315],[0.431,0.097],[0.14,-0.03],[-0.196,-0.038],[-0.497,0.075],[-0.696,0.283]],
  [[-0.72,0.49],[-0.655,0.716],[-0.471,0.897],[-0.207,0.997],[0.087,0.997],[0.351,0.897],[0.535,0.716],[0.6,0.49],[0.535,0.264],[0.351,0.083],[0.087,-0.017],[-0.207,-0.017],[-0.471,0.083],[-0.655,0.264]],
  [[-0.636,0.58],[-0.52,0.782],[-0.295,0.918],[-0.013,0.96],[0.262,0.895],[0.467,0.74],[0.554,0.53],[0.503,0.314],[0.328,0.139],[0.067,0.048],[-0.22,0.06],[-0.467,0.173],[-0.617,0.361]],
  [[-0.74,0.586],[-0.604,0.827],[-0.341,0.99],[-0.012,1.039],[0.308,0.962],[0.547,0.777],[0.649,0.526],[0.59,0.267],[0.385,0.059],[0.08,-0.051],[-0.254,-0.036],[-0.543,0.099],[-0.717,0.324]],
  [[-0.81,0.49],[-0.735,0.74],[-0.525,0.94],[-0.223,1.051],[0.113,1.051],[0.415,0.94],[0.625,0.74],[0.7,0.49],[0.625,0.24],[0.415,0.04],[0.113,-0.071],[-0.223,-0.071],[-0.525,0.04],[-0.735,0.24]],
  [[-0.658,0.543],[-0.561,0.765],[-0.346,0.926],[-0.06,0.99],[0.23,0.941],[0.458,0.792],[0.573,0.575],[0.547,0.341],[0.386,0.144],[0.128,0.028],[-0.169,0.021],[-0.436,0.123],[-0.612,0.312]],
  [[-0.803,0.645],[-0.601,0.896],[-0.252,1.041],[0.152,1.041],[0.501,0.896],[0.703,0.645],[0.703,0.355],[0.501,0.104],[0.152,-0.041],[-0.252,-0.041],[-0.601,0.104],[-0.803,0.355]],
  [[-0.756,0.627],[-0.569,0.865],[-0.246,1.002],[0.126,1.002],[0.449,0.865],[0.636,0.627],[0.636,0.353],[0.449,0.115],[0.126,-0.022],[-0.246,-0.022],[-0.569,0.115],[-0.756,0.353]],
  [[-0.67,0.49],[-0.609,0.703],[-0.436,0.873],[-0.188,0.968],[0.088,0.968],[0.336,0.873],[0.509,0.703],[0.57,0.49],[0.509,0.277],[0.336,0.107],[0.088,0.012],[-0.188,0.012],[-0.436,0.107],[-0.609,0.277]],
  [[-0.789,0.577],[-0.645,0.823],[-0.368,0.989],[-0.02,1.039],[0.319,0.961],[0.571,0.772],[0.678,0.517],[0.616,0.253],[0.4,0.041],[0.078,-0.07],[-0.276,-0.055],[-0.581,0.082],[-0.765,0.311]],
  [[-0.68,0.5],[-0.617,0.717],[-0.439,0.891],[-0.183,0.988],[0.103,0.988],[0.359,0.891],[0.537,0.717],[0.6,0.5],[0.537,0.283],[0.359,0.109],[0.103,0.012],[-0.183,0.012],[-0.439,0.109],[-0.617,0.283]],
  [[-0.717,0.525],[-0.615,0.761],[-0.386,0.932],[-0.082,1.0],[0.227,0.948],[0.471,0.789],[0.592,0.56],[0.564,0.312],[0.393,0.102],[0.119,-0.021],[-0.197,-0.029],[-0.482,0.08],[-0.669,0.28]],
  [[-0.63,0.612],[-0.474,0.822],[-0.205,0.944],[0.105,0.944],[0.374,0.822],[0.53,0.612],[0.53,0.368],[0.374,0.158],[0.105,0.036],[-0.205,0.036],[-0.474,0.158],[-0.63,0.368]],
  [[-0.751,0.632],[-0.564,0.879],[-0.241,1.021],[0.131,1.021],[0.454,0.879],[0.641,0.632],[0.641,0.348],[0.454,0.101],[0.131,-0.041],[-0.241,-0.041],[-0.564,0.101],[-0.751,0.348]],
  [[-0.72,0.59],[-0.588,0.818],[-0.333,0.973],[-0.013,1.019],[0.298,0.947],[0.53,0.771],[0.629,0.534],[0.572,0.289],[0.372,0.092],[0.076,-0.011],[-0.249,0.003],[-0.529,0.13],[-0.698,0.343]],
  [[-0.807,0.54],[-0.689,0.798],[-0.425,0.986],[-0.075,1.059],[0.281,1.003],[0.561,0.829],[0.701,0.577],[0.669,0.305],[0.472,0.076],[0.156,-0.059],[-0.208,-0.067],[-0.536,0.052],[-0.751,0.271]],
  [[-0.77,0.485],[-0.699,0.726],[-0.499,0.919],[-0.211,1.026],[0.111,1.026],[0.399,0.919],[0.599,0.726],[0.67,0.485],[0.599,0.244],[0.399,0.051],[0.111,-0.056],[-0.211,-0.056],[-0.499,0.051],[-0.699,0.244]],
  [[-0.712,0.62],[-0.536,0.853],[-0.231,0.987],[0.121,0.987],[0.426,0.853],[0.602,0.62],[0.602,0.35],[0.426,0.117],[0.121,-0.017],[-0.231,-0.017],[-0.536,0.117],[-0.712,0.35]],
  [[-0.759,0.587],[-0.62,0.833],[-0.35,0.999],[-0.011,1.049],[0.319,0.971],[0.564,0.782],[0.669,0.527],[0.608,0.263],[0.397,0.051],[0.084,-0.06],[-0.26,-0.045],[-0.557,0.092],[-0.736,0.321]],
  [[-0.602,0.567],[-0.493,0.759],[-0.283,0.89],[-0.02,0.93],[0.237,0.868],[0.428,0.72],[0.509,0.519],[0.462,0.312],[0.298,0.145],[0.054,0.057],[-0.214,0.069],[-0.444,0.177],[-0.584,0.357]],
  [[-0.784,0.643],[-0.587,0.898],[-0.247,1.046],[0.147,1.046],[0.487,0.898],[0.684,0.643],[0.684,0.347],[0.487,0.092],[0.147,-0.056],[-0.247,-0.056],[-0.587,0.092],[-0.784,0.347]],
  [[-0.735,0.49],[-0.667,0.724],[-0.475,0.912],[-0.199,1.017],[0.109,1.017],[0.385,0.912],[0.577,0.724],[0.645,0.49],[0.577,0.256],[0.385,0.068],[0.109,-0.037],[-0.199,-0.037],[-0.475,0.068],[-0.667,0.256]],
  [[-0.813,0.635],[-0.609,0.895],[-0.255,1.045],[0.155,1.045],[0.509,0.895],[0.7,0.635],[0.7,0.335],[0.509,0.075],[0.155,-0.075],[-0.255,-0.075],[-0.609,0.075],[-0.813,0.335]],
  [[-0.804,0.59],[-0.656,0.842],[-0.371,1.013],[-0.014,1.064],[0.334,0.984],[0.593,0.79],[0.703,0.528],[0.64,0.257],[0.417,0.039],[0.086,-0.075],[-0.277,-0.06],[-0.59,0.081],[-0.779,0.316]],
  [[-0.658,0.63],[-0.492,0.854],[-0.206,0.983],[0.126,0.983],[0.412,0.854],[0.578,0.63],[0.578,0.37],[0.412,0.146],[0.126,0.017],[-0.206,0.017],[-0.492,0.146],[-0.658,0.37]],
  [[-0.81,0.48],[-0.736,0.723],[-0.527,0.918],[-0.227,1.026],[0.107,1.026],[0.407,0.918],[0.616,0.723],[0.69,0.48],[0.616,0.237],[0.407,0.042],[0.107,-0.066],[-0.227,-0.066],[-0.527,0.042],[-0.736,0.237]],
  [[-0.695,0.584],[-0.567,0.807],[-0.32,0.959],[-0.009,1.004],[0.293,0.933],[0.518,0.761],[0.614,0.529],[0.558,0.288],[0.365,0.095],[0.078,-0.006],[-0.238,0.007],[-0.51,0.132],[-0.674,0.341]]
].flat();

// (d) AMY layer — spiral out of the origin
const amySpiral = [
  [[0.0,0.0],[0.04,0.02],[0.03,0.06],[-0.02,0.07],[-0.05,0.02],[-0.03,-0.04],[0.03,-0.06],[0.08,-0.01],[0.07,0.07],[0.0,0.12],[-0.08,0.09],[-0.12,0.0],[-0.09,-0.1],[-0.01,-0.16],[0.08,-0.14],[0.12,-0.04],[0.1,0.1]],
  [[0.216,-0.04],[0.148,0.228],[-0.076,0.295],[-0.21,0.21],[-0.279,0.071],[-0.288,-0.152],[-0.234,-0.35],[-0.054,-0.464],[0.126,-0.4],[0.35,-0.35]],
  [[0.43,0.44],[0.4,0.65],[0.24,0.81],[-0.03,0.853],[-0.55,0.7],[-0.86,0.35],[-1.0,-0.06],[-0.91,-0.68],[-0.75,-0.955],[-0.41,-1.17],[-0.14,-1.24],[0.13,-1.18],[0.4,-0.9],[0.6,-0.55]],
  [[0.76,0.43],[0.73,0.92],[0.53,1.43],[0.13,1.78],[-0.44,1.8],[-1.16,1.48],[-1.67,0.99],[-1.9,0.45],[-2.03,-0.17],[-1.9,-0.69],[-1.54,-1.27],[-1.09,-1.76],[-0.66,-1.96],[-0.35,-1.96],[0.0,-1.9],[0.3,-1.55],[0.55,-0.95],[0.72,-0.25]],
  [[0.85,0.3],[0.95,1.0],[0.85,1.7],[0.6,2.2],[0.2,2.45],[-0.3,2.5],[-0.9,2.35],[-1.5,2.0],[-2.2,1.45],[-2.66,0.81],[-2.89,0.21],[-2.84,-0.5],[-2.4,-1.2],[-1.8,-1.7],[-1.1,-2.05]]
].flat();

// (d) AMY layer — limit-cycle band
const amyBand = [
  [[-0.5,-2.15],[0.0,-2.08],[0.35,-1.78],[0.58,-1.25],[0.78,-0.58],[0.9,0.1],[1.02,0.8],[1.08,1.45],[1.0,2.0],[0.72,2.42],[0.28,2.68],[-0.25,2.78],[-0.9,2.72],[-1.55,2.45],[-2.25,1.98],[-2.85,1.35],[-3.25,0.65],[-3.35,0.0],[-3.15,-0.6],[-2.7,-1.1],[-2.1,-1.55],[-1.5,-1.9],[-0.95,-2.1]],
  [[-0.45,-2.28],[0.05,-2.17],[0.4,-1.88],[0.68,-1.32],[0.95,-0.55],[1.12,0.2],[1.28,0.92],[1.32,1.6],[1.22,2.15],[0.92,2.6],[0.45,2.92],[-0.15,3.08],[-0.85,3.05],[-1.6,2.8],[-2.45,2.3],[-3.2,1.65],[-3.75,0.9],[-3.98,0.2],[-3.8,-0.42],[-3.3,-0.98],[-2.6,-1.48],[-1.8,-1.92],[-1.1,-2.2]],
  [[-0.5,-2.1],[-0.03,-2.01],[0.31,-1.73],[0.54,-1.21],[0.68,-0.6],[0.8,0.04],[0.9,0.74],[0.96,1.4],[0.9,1.94],[0.62,2.34],[0.18,2.58],[-0.34,2.65],[-0.96,2.55],[-1.6,2.25],[-2.24,1.76],[-2.75,1.16],[-3.05,0.5],[-3.08,-0.1],[-2.84,-0.68],[-2.35,-1.18],[-1.8,-1.6],[-1.22,-1.9],[-0.82,-2.04]],
  [[-0.55,-2.22],[-0.05,-2.12],[0.33,-1.82],[0.6,-1.3],[0.85,-0.6],[1.02,0.12],[1.15,0.85],[1.22,1.55],[1.15,2.1],[0.88,2.58],[0.42,2.92],[-0.12,3.12],[-0.78,3.1],[-1.45,2.85],[-2.2,2.38],[-2.9,1.72],[-3.4,0.98],[-3.6,0.28],[-3.48,-0.35],[-3.05,-0.9],[-2.45,-1.4],[-1.75,-1.85],[-1.1,-2.12]],
  [[-0.5,-2.33],[0.05,-2.23],[0.45,-1.93],[0.76,-1.36],[1.08,-0.48],[1.28,0.32],[1.45,1.02],[1.45,1.78],[1.35,2.3],[1.05,2.78],[0.6,3.18],[0.0,3.38],[-0.75,3.4],[-1.6,3.2],[-2.55,2.7],[-3.5,1.98],[-4.12,1.15],[-4.35,0.32],[-4.15,-0.36],[-3.58,-0.97],[-2.82,-1.5],[-1.9,-1.98],[-1.05,-2.27]],
  [[-0.5,-2.32],[0.05,-2.22],[0.45,-1.92],[0.75,-1.35],[1.05,-0.5],[1.25,0.3],[1.42,1.0],[1.42,1.75],[1.3,2.3],[0.98,2.75],[0.5,3.1],[-0.1,3.3],[-0.85,3.32],[-1.7,3.1],[-2.6,2.6],[-3.45,1.9],[-4.05,1.1],[-4.3,0.3],[-4.1,-0.35],[-3.55,-0.95],[-2.8,-1.5],[-1.9,-1.98],[-1.1,-2.25]],
  [[-0.5,-2.2],[0.0,-2.11],[0.37,-1.81],[0.62,-1.28],[0.86,-0.56],[1.02,0.14],[1.15,0.86],[1.2,1.54],[1.12,2.08],[0.84,2.52],[0.38,2.84],[-0.18,2.97],[-0.8,2.94],[-1.48,2.68],[-2.22,2.2],[-2.92,1.58],[-3.4,0.88],[-3.62,0.18],[-3.45,-0.44],[-3.0,-0.97],[-2.4,-1.45],[-1.7,-1.88],[-1.05,-2.15]],
  [[-0.48,-2.3],[0.05,-2.2],[0.42,-1.9],[0.72,-1.34],[1.0,-0.52],[1.18,0.25],[1.35,0.98],[1.38,1.68],[1.27,2.22],[0.96,2.68],[0.48,3.02],[-0.12,3.2],[-0.85,3.18],[-1.65,2.95],[-2.55,2.45],[-3.35,1.75],[-3.9,1.0],[-4.12,0.25],[-3.95,-0.4],[-3.45,-0.96],[-2.7,-1.48],[-1.85,-1.95],[-1.1,-2.22]],
  [[-0.5,-2.12],[-0.02,-2.05],[0.33,-1.76],[0.57,-1.24],[0.74,-0.6],[0.86,0.06],[0.98,0.78],[1.04,1.42],[0.97,1.98],[0.68,2.38],[0.24,2.62],[-0.3,2.72],[-0.92,2.66],[-1.58,2.38],[-2.28,1.9],[-2.85,1.28],[-3.2,0.6],[-3.25,-0.02],[-3.02,-0.62],[-2.55,-1.12],[-1.98,-1.58],[-1.35,-1.92],[-0.88,-2.08]],
  [[-0.52,-2.18],[-0.02,-2.1],[0.34,-1.8],[0.6,-1.28],[0.8,-0.6],[0.95,0.1],[1.08,0.82],[1.15,1.5],[1.08,2.05],[0.8,2.48],[0.35,2.78],[-0.2,2.9],[-0.85,2.85],[-1.55,2.58],[-2.3,2.1],[-2.95,1.45],[-3.38,0.75],[-3.5,0.1],[-3.3,-0.5],[-2.85,-1.02],[-2.25,-1.5],[-1.6,-1.88],[-1.0,-2.12]],
  [[-0.5,-2.24],[0.02,-2.15],[0.4,-1.86],[0.67,-1.3],[0.94,-0.52],[1.12,0.25],[1.28,0.95],[1.33,1.62],[1.22,2.16],[0.92,2.6],[0.46,2.92],[-0.1,3.06],[-0.78,3.04],[-1.5,2.82],[-2.35,2.36],[-3.1,1.7],[-3.65,0.98],[-3.92,0.42],[-3.75,-0.28],[-3.28,-0.9],[-2.6,-1.42],[-1.82,-1.9],[-1.1,-2.18]],
  [[-0.5,-2.34],[0.05,-2.24],[0.45,-1.94],[0.78,-1.36],[1.1,-0.48],[1.32,0.35],[1.5,1.05],[1.45,1.82],[1.38,2.3],[1.08,2.72],[0.7,3.2],[0.1,3.42],[-0.6,3.48],[-1.5,3.32],[-2.55,2.8],[-3.55,2.05],[-4.2,1.2],[-4.42,0.35],[-4.2,-0.35],[-3.62,-0.98],[-2.85,-1.52],[-1.9,-2.0],[-1.0,-2.28]],
  [[-0.5,-2.17],[0.0,-2.09],[0.35,-1.79],[0.59,-1.26],[0.81,-0.57],[0.96,0.12],[1.09,0.85],[1.15,1.52],[1.07,2.06],[0.78,2.47],[0.33,2.75],[-0.23,2.86],[-0.86,2.82],[-1.54,2.55],[-2.28,2.07],[-2.92,1.44],[-3.33,0.74],[-3.46,0.07],[-3.25,-0.54],[-2.8,-1.06],[-2.2,-1.52],[-1.55,-1.88],[-1.0,-2.11]],
  [[-0.5,-2.36],[0.05,-2.25],[0.45,-1.95],[0.8,-1.36],[1.16,-0.46],[1.38,0.43],[1.56,1.1],[1.47,1.9],[1.43,2.3],[1.12,2.75],[0.78,3.33],[0.13,3.51],[-0.28,3.82],[-1.54,3.61],[-2.8,2.86],[-3.88,1.95],[-4.51,1.05],[-4.57,0.25],[-4.26,-0.38],[-3.65,-1.0],[-2.84,-1.54],[-1.85,-2.0],[-0.95,-2.27]],
  [[-0.5,-2.25],[0.02,-2.15],[0.4,-1.86],[0.68,-1.3],[0.95,-0.5],[1.15,0.28],[1.32,1.0],[1.35,1.65],[1.22,2.2],[0.9,2.62],[0.42,2.9],[-0.15,3.02],[-0.8,3.0],[-1.5,2.78],[-2.3,2.32],[-3.05,1.65],[-3.55,0.9],[-3.78,0.22],[-3.62,-0.4],[-3.18,-0.95],[-2.52,-1.45],[-1.78,-1.9],[-1.1,-2.17]],
  [[-0.5,-2.3],[0.05,-2.2],[0.43,-1.9],[0.73,-1.34],[1.02,-0.5],[1.2,0.28],[1.37,1.0],[1.4,1.7],[1.28,2.24],[0.97,2.7],[0.5,3.05],[-0.1,3.22],[-0.85,3.2],[-1.65,2.98],[-2.55,2.48],[-3.38,1.78],[-3.95,1.02],[-4.18,0.28],[-4.0,-0.38],[-3.48,-0.96],[-2.72,-1.48],[-1.86,-1.95],[-1.1,-2.23]],
  [[-0.5,-2.28],[0.05,-2.18],[0.42,-1.88],[0.7,-1.3],[0.98,-0.5],[1.16,0.25],[1.3,0.95],[1.35,1.62],[1.25,2.18],[0.95,2.62],[0.5,2.95],[-0.08,3.12],[-0.75,3.12],[-1.5,2.92],[-2.35,2.45],[-3.1,1.8],[-3.65,1.05],[-3.88,0.35],[-3.85,-0.25],[-3.45,-0.85],[-2.8,-1.4],[-2.0,-1.88],[-1.2,-2.2]],
  [[-0.5,-2.2],[0.0,-2.1],[0.36,-1.8],[0.62,-1.28],[0.85,-0.58],[1.0,0.12],[1.12,0.85],[1.18,1.52],[1.1,2.05],[0.82,2.5],[0.38,2.82],[-0.18,2.95],[-0.8,2.92],[-1.5,2.65],[-2.25,2.18],[-2.95,1.55],[-3.42,0.85],[-3.6,0.15],[-3.42,-0.45],[-2.98,-0.98],[-2.38,-1.45],[-1.7,-1.88],[-1.05,-2.15]],
  [[-0.5,-2.27],[0.04,-2.17],[0.42,-1.88],[0.7,-1.32],[0.97,-0.52],[1.15,0.24],[1.3,0.96],[1.35,1.64],[1.24,2.18],[0.94,2.62],[0.48,2.95],[-0.1,3.1],[-0.8,3.08],[-1.56,2.86],[-2.42,2.4],[-3.18,1.72],[-3.72,0.96],[-3.95,0.24],[-3.78,-0.4],[-3.3,-0.97],[-2.6,-1.47],[-1.8,-1.92],[-1.1,-2.2]],
  [[-0.5,-2.26],[0.03,-2.16],[0.4,-1.86],[0.66,-1.3],[0.92,-0.55],[1.1,0.22],[1.25,0.92],[1.3,1.6],[1.2,2.12],[0.9,2.58],[0.45,2.9],[-0.1,3.05],[-0.75,3.05],[-1.45,2.85],[-2.3,2.38],[-3.1,1.7],[-3.62,0.95],[-3.85,0.25],[-3.7,-0.38],[-3.25,-0.95],[-2.58,-1.45],[-1.8,-1.92],[-1.1,-2.2]],
  [[-0.5,-2.08],[-0.04,-2.0],[0.3,-1.72],[0.52,-1.2],[0.66,-0.6],[0.77,0.02],[0.87,0.72],[0.93,1.38],[0.87,1.92],[0.6,2.32],[0.15,2.55],[-0.36,2.62],[-0.98,2.5],[-1.6,2.2],[-2.22,1.7],[-2.7,1.1],[-2.98,0.45],[-3.0,-0.15],[-2.75,-0.72],[-2.25,-1.22],[-1.68,-1.62],[-1.15,-1.9],[-0.8,-2.02]],
  [[-0.5,-2.31],[0.05,-2.21],[0.44,-1.92],[0.74,-1.35],[1.03,-0.5],[1.22,0.3],[1.4,1.0],[1.42,1.72],[1.3,2.28],[0.98,2.72],[0.52,3.05],[-0.1,3.25],[-0.85,3.25],[-1.7,3.02],[-2.6,2.52],[-3.42,1.82],[-4.0,1.05],[-4.22,0.3],[-4.02,-0.38],[-3.5,-0.96],[-2.75,-1.5],[-1.88,-1.96],[-1.1,-2.24]],
  [[-0.5,-2.23],[0.02,-2.14],[0.39,-1.85],[0.66,-1.29],[0.92,-0.52],[1.1,0.22],[1.26,0.94],[1.3,1.62],[1.18,2.14],[0.87,2.56],[0.41,2.86],[-0.14,2.99],[-0.78,2.97],[-1.47,2.72],[-2.24,2.26],[-2.98,1.62],[-3.5,0.9],[-3.72,0.2],[-3.55,-0.42],[-3.1,-0.96],[-2.46,-1.44],[-1.74,-1.88],[-1.08,-2.17]],
  [[-0.5,-2.22],[0.0,-2.12],[0.37,-1.83],[0.63,-1.28],[0.88,-0.55],[1.05,0.18],[1.2,0.9],[1.26,1.58],[1.16,2.12],[0.86,2.55],[0.4,2.85],[-0.15,2.98],[-0.78,2.95],[-1.48,2.7],[-2.25,2.25],[-3.0,1.6],[-3.5,0.88],[-3.7,0.2],[-3.52,-0.42],[-3.08,-0.96],[-2.45,-1.44],[-1.72,-1.88],[-1.08,-2.16]],
  [[-0.5,-2.26],[0.03,-2.16],[0.42,-1.88],[0.7,-1.3],[0.98,-0.5],[1.18,0.28],[1.35,1.0],[1.38,1.7],[1.3,2.25],[1.05,2.75],[0.6,3.25],[0.1,3.48],[-0.5,3.5],[-1.2,3.3],[-2.1,2.8],[-3.0,2.05],[-3.6,1.25],[-3.9,0.45],[-3.8,-0.25],[-3.35,-0.88],[-2.68,-1.42],[-1.85,-1.92],[-1.1,-2.2]],
  [[-0.5,-2.16],[0.0,-2.08],[0.35,-1.78],[0.58,-1.25],[0.8,-0.56],[0.95,0.15],[1.08,0.88],[1.14,1.55],[1.05,2.08],[0.76,2.48],[0.3,2.75],[-0.25,2.85],[-0.88,2.8],[-1.55,2.52],[-2.28,2.05],[-2.9,1.42],[-3.3,0.72],[-3.42,0.05],[-3.2,-0.55],[-2.75,-1.06],[-2.15,-1.52],[-1.52,-1.88],[-0.98,-2.1]]
].flat();

const captions = [
  '(a) Potential response of E1 and I1 in OB layer',
  '(b) Potential response of E1 and I1 in AON layer',
  '(c) Potential response of E1 and I1 in CA3 layer',
  '(d) Potential response of E1 and I1 in AMY layer'
];

// ---- layout / styling ----
const FONT = '"Liberation Serif", "Times New Roman", serif';
const INK = '#231f20';
const BLUE = '#3868b0';

// axis ranges: [min, max, interval, decimals]
const panels = [
  { box: [519, 33, 1090, 866], x: [-3, 1.5, 0.5, 1], y: [-4, 2, 1, 0], yGap: 132, capY: 1098, paths: [obRing, obWing] },
  { box: [1938, 33, 1091, 866], x: [-3, 2, 0.5, 1], y: [-4, 3, 1, 0], yGap: 132, capY: 1098, paths: [aonRing, aonWing] },
  { box: [519, 1191, 1091, 864], x: [-1, 0.8, 0.2, 1], y: [-0.2, 1.2, 0.2, 1], yGap: 168, capY: 2256, paths: [ca3Spiral, ca3Band] },
  { box: [1939, 1195, 1090, 866], x: [-5, 2, 1, 0], y: [-3, 4, 1, 0], yGap: 132, capY: 2256, paths: [amySpiral, amyBand] }
];

function tickFmt(dec) {
  return function (v) {
    const r = Math.round(v * 1000) / 1000;
    if (Math.abs(r) < 1e-9) return '0';
    return (r < 0 ? '\u2212' : '') + Math.abs(r).toFixed(dec);
  };
}

function axis(range, name, isY, gap) {
  return {
    type: 'value',
    min: range[0], max: range[1], interval: range[2],
    name: name,
    nameLocation: 'middle',
    nameGap: gap,
    nameRotate: isY ? 90 : 0,
    nameTextStyle: {
      fontFamily: FONT, fontSize: 52, color: INK,
      rich: { i: { fontFamily: FONT, fontSize: 52, color: INK, fontStyle: 'italic' } }
    },
    axisLine: { show: true, onZero: false, lineStyle: { color: INK, width: 3 } },
    axisTick: { show: true, inside: true, length: 11, lineStyle: { color: INK, width: 2 } },
    axisLabel: { fontFamily: FONT, fontSize: 51, color: INK, margin: isY ? 42 : 37, formatter: tickFmt(range[3]) },
    splitLine: { show: false }
  };
}

const option = {
  backgroundColor: '#fff',
  animation: false,
  title: [], grid: [], xAxis: [], yAxis: [], series: []
};

panels.forEach((p, i) => {
  const [left, top, width, height] = p.box;
  option.grid.push({ left, top, width, height, show: true, borderColor: INK, borderWidth: 3, backgroundColor: 'transparent' });
  option.xAxis.push(Object.assign(axis(p.x, 'E1({i|t}) (mV)', false, 111), { gridIndex: i }));
  option.yAxis.push(Object.assign(axis(p.y, 'I1({i|t}) (mV)', true, p.yGap), { gridIndex: i }));
  option.title.push({
    text: captions[i], left: left + width / 2 - 7, top: p.capY, textAlign: 'center', padding: 0,
    textStyle: { fontFamily: FONT, fontSize: 52, fontWeight: 'normal', color: INK }
  });
  // one continuous trajectory per panel
  option.series.push({
    type: 'line', xAxisIndex: i, yAxisIndex: i, data: [].concat(...p.paths),
    showSymbol: false, symbol: 'none', silent: true, clip: true,
    lineStyle: { color: BLUE, width: 2.4 }
  });
});

const chart = echarts.init(document.getElementById('chart'), null, { renderer: 'canvas' });
chart.setOption(option);
window.addEventListener('resize', () => chart.resize());
</script>
</body>
</html>
